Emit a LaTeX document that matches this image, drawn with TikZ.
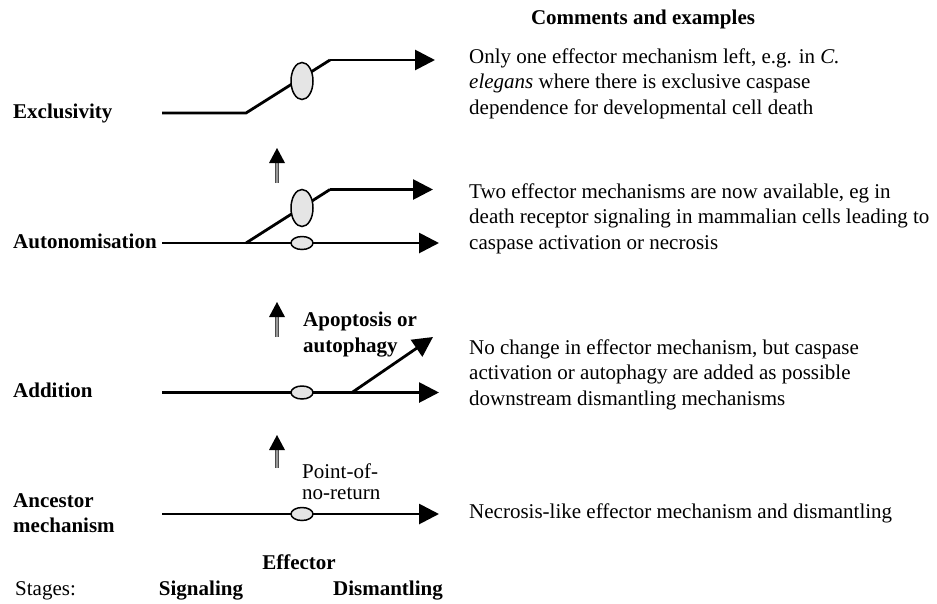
\documentclass[tikz,border=0pt]{standalone}
\usepackage{fontspec}
\setmainfont{Liberation Serif}
\usetikzlibrary{arrows.meta,shapes.geometric,calc}
\tikzset{
  body/.style={inner sep=0pt, font=\fontsize{21}{25.5}\selectfont, align=left, anchor=north west},
  lbl/.style={inner sep=0pt, font=\fontsize{21}{25}\selectfont\bfseries, align=left, anchor=north west},
  onelbl/.style={inner sep=0pt, font=\fontsize{21}{25}\selectfont\bfseries, anchor=base},
  path/.style={line width=2.8pt, line cap=butt, line join=miter},
  patharr/.style={path, -{Triangle[length=20pt,width=20pt]}},
  bigell/.style={ellipse, draw, line width=1.5pt, fill=black!10, minimum width=22pt, minimum height=37pt, inner sep=0pt},
  smallell/.style={ellipse, draw, line width=1.5pt, fill=black!10, minimum width=22pt, minimum height=13pt, inner sep=0pt},
  shaft/.style={draw=black!70, line width=0.9pt, double=black!40, double distance=1.8pt},
}
\newcommand{\stagearrow}[2]{%
  \draw[shaft] (#1) -- ($(#2)+(0,13)$);
  \fill (#2) -- ++(-8,15) -- ++(16,0) -- cycle;
}
\begin{document}
\begin{tikzpicture}[x=1pt,y=-1pt]
\useasboundingbox (0,0) rectangle (937,603);

% header
\node[onelbl] (hdr) at (643,24) {Comments and examples};

% left labels
\node[lbl] (lexc) at (13,101) {\strut Exclusivity};
\node[lbl] (laut) at (13,231) {\strut Autonomisation};
\node[lbl] (ladd) at (13,380) {\strut Addition};
\node[lbl] (lanc) at (13,490) {\strut Ancestor\\mechanism};

% Exclusivity row
\coordinate (e0) at (162,113);
\coordinate (e1) at (246,113);
\coordinate (e2) at (330,60);
\coordinate (e3) at (435,60);
\draw[path] (e0) -- (e1) -- (e2);
\draw[patharr] (e2) -- (e3);
\node[bigell] (ee) at (302,81) {};

% Autonomisation row
\coordinate (a0) at (162,243);
\coordinate (a1) at (246,243);
\coordinate (a2) at (330,189.5);
\coordinate (a3) at (433,189.5);
\coordinate (a4) at (439,243);
\draw[patharr] (a0) -- (a4);
\draw[path] (a1) -- (a2);
\draw[patharr] (a2) -- (a3);
\node[bigell] (ae) at (302,208) {};
\node[smallell] (as) at (302,243) {};

% Addition row
\coordinate (d0) at (162,392.5);
\coordinate (d4) at (439,392.5);
\coordinate (b0) at (352,392.5);
\coordinate (b1) at (433,337);
\draw[patharr] (d0) -- (d4);
\draw[patharr] (b0) -- (b1);
\node[smallell] (ds) at (302,392.5) {};
\node[inner sep=0pt, font=\fontsize{21}{26.5}\selectfont\bfseries, align=left, anchor=north west] (apo) at (303,307.5) {\strut Apoptosis or\\autophagy};

% Ancestor row
\coordinate (n0) at (162,514);
\coordinate (n4) at (439,514);
\draw[patharr] (n0) -- (n4);
\node[smallell] (ns) at (302,514) {};
\node[inner sep=0pt, font=\fontsize{21}{21}\selectfont, align=left, anchor=north west] (pnr) at (302,463.3) {\strut Point-of-\\no-return};

% stage arrows
\coordinate (s1b) at (277,183); \coordinate (s1t) at (277,148);
\coordinate (s2b) at (277,337); \coordinate (s2t) at (277,302);
\coordinate (s3b) at (277,468); \coordinate (s3t) at (277,435);
\stagearrow{s1b}{s1t}
\stagearrow{s2b}{s2t}
\stagearrow{s3b}{s3t}

% bottom labels
\node[onelbl] (eff) at (299,569) {Effector};
\node[inner sep=0pt, font=\fontsize{21}{25}\selectfont, anchor=base west] (stg) at (15,595) {Stages:};
\node[onelbl] (sig) at (201,595) {Signaling};
\node[onelbl] (dis) at (388,595) {Dismantling};

% comments
\node[body] (c1) at (469,45) {\strut Only one effector mechanism left, e.g. in \textit{C.}\\\textit{elegans} where there is exclusive caspase\\dependence for developmental cell death};
\node[body] (c2) at (469,180) {\strut Two effector mechanisms are now available, eg in\\death receptor signaling in mammalian cells leading to\\caspase activation or necrosis};
\node[body] (c3) at (469,336) {\strut No change in effector mechanism, but caspase\\activation or autophagy are added as possible\\downstream dismantling mechanisms};
\node[body] (c4) at (469,500) {\strut Necrosis-like effector mechanism and dismantling};
\end{tikzpicture}
\end{document}
